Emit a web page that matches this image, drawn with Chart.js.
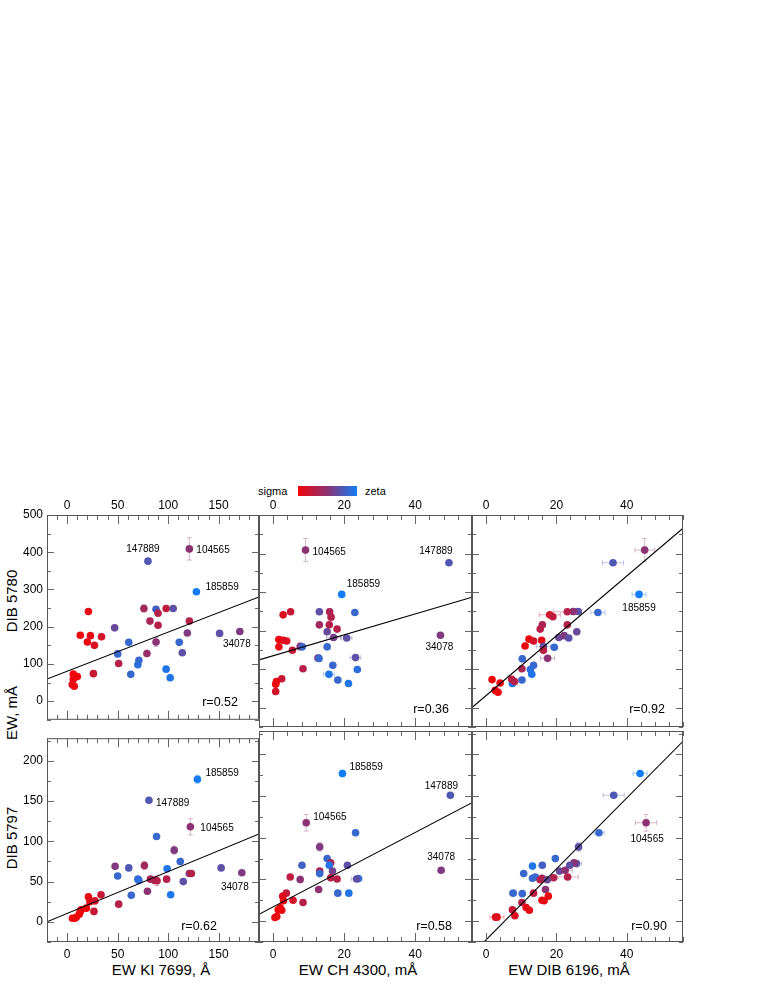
<!DOCTYPE html>
<html>
<head>
<meta charset="utf-8">
<script src="https://cdn.jsdelivr.net/npm/chart.js@4.4.1/dist/chart.umd.min.js"></script>
<style>
  body { margin: 0; background: #fff; width: 763px; height: 987px; position: relative; overflow: hidden;
         font-family: 'Liberation Sans', Arial, Helvetica, sans-serif; }
  canvas { position: absolute; }
  .ttl { position: absolute; font-size: 15px; line-height: 20px; height: 20px; white-space: nowrap; color: #000; text-align: center; }
  .rot { width: 120px; transform: rotate(-90deg); }
  .leg { position: absolute; font-size: 11px; line-height: 14px; color: #000; }
  #bar { position: absolute; left: 298px; top: 486px; width: 59px; height: 10px;
         background: linear-gradient(to right, rgb(240,5,10), rgb(140,50,115), rgb(20,125,245)); }
</style>
</head>
<body>
<div class="leg" style="left:258px; top:484px;">sigma</div>
<div id="bar"></div>
<div class="leg" style="left:365px; top:484px;">zeta</div>

<div class="ttl rot" style="left:-48px; top:591px;">DIB 5780</div>
<div class="ttl rot" style="left:-48px; top:703px;">EW, mÅ</div>
<div class="ttl rot" style="left:-48px; top:828px;">DIB 5797</div>
<div class="ttl" style="left:61px; top:960px; width:200px;">EW KI 7699, Å</div>
<div class="ttl" style="left:258px; top:960px; width:200px;">EW CH 4300, mÅ</div>
<div class="ttl" style="left:469px; top:960px; width:200px;">EW DIB 6196, mÅ</div>

<script>
// tick labels
const kiTicks = [0, 50, 100, 150];
const ewTicks = [0, 20, 40];
const y5780Ticks = [0, 100, 200, 300, 400, 500];
const y5797Ticks = [0, 50, 100, 150, 200];

// points: [x, y, sigma->zeta colour index, x error, y error, name]
const ki5780 = [
  [121, 409, 0.5, 0, 30, '104565'], [80, 376, 0.75, 0, 0, '147889'], [128, 294, 1, 0, 0, '185859'],
  [171, 187, 0.55, 0, 0, '34078'], [151, 182, 0.7], [21, 241, 0.05], [76, 249, 0.4, 0, 10],
  [88, 247, 0.8], [98, 249, 0.25], [105, 249, 0.7], [82, 215, 0.35], [90, 236, 0.3],
  [90, 204, 0.3], [121, 215, 0.3], [47, 197, 0.65], [13, 177, 0], [23, 176, 0.05],
  [34, 173, 0.15], [20, 159, 0.05], [27, 150, 0.12], [61, 158, 0.85], [88, 159, 0.5, 0, 12],
  [119, 183, 0.55], [111, 158, 0.85], [114, 130, 0.7], [79, 128, 0.45], [50, 127, 0.85, 0, 8],
  [51, 101, 0.3], [71, 110, 0.85], [70, 98, 0.9], [63, 72, 0.85], [98, 86, 0.95],
  [102, 63, 0.95, 0, 8], [26, 74, 0.2], [6, 73, 0], [10, 66, 0], [6, 59, 0.02], [5, 45, 0.05], [7, 40, 0.02]
];
const ch5780 = [
  [9.1, 409, 0.5, 0, 30, '104565'], [49.5, 376, 0.75, 0, 0, '147889'], [19.3, 294, 1, 0, 0, '185859'],
  [47.1, 188, 0.55, 0, 0, '34078'], [2.8, 241, 0.1], [4.9, 249, 0.2], [13, 249, 0.7],
  [15.9, 249, 0.35, 0, 8], [16.3, 235, 0.3], [23, 247, 0.85], [13, 215, 0.4], [15.8, 215, 0.3],
  [18, 204, 0.3], [15.2, 197, 0.65], [17, 182, 0.6, 2, 0], [20.7, 181, 0.7, 1.5, 0],
  [1.6, 177, 0], [2.8, 175, 0.05], [3.8, 173, 0.1], [1.6, 158, 0.05], [5.4, 149, 0.2],
  [7.6, 159, 0.5, 0, 10], [8.2, 158, 0.85], [15.2, 158, 0.85], [12.6, 129, 0.5], [12.9, 128, 0.85, 0, 8],
  [23.2, 130, 0.7, 1.5, 0], [8.4, 101, 0.3], [16.8, 110, 0.85], [23.7, 99, 0.9], [15.7, 87, 0.95, 1.5, 0],
  [18.2, 72, 0.85], [21.2, 63, 0.95, 0, 8], [2.4, 75, 0.2], [0.9, 68, 0.05], [0.7, 61, 0.02], [0.7, 42, 0.15]
];
const dib5780 = [
  [45.1, 409, 0.5, 2.8, 30], [36.1, 376, 0.75, 3, 0], [43.5, 294, 1, 2, 0, '185859'],
  [31.8, 247, 0.85, 2, 0], [26.2, 249.5, 0.7], [24.8, 249.5, 0.5, 0, 8], [23.1, 249, 0.3, 4, 0],
  [18.1, 241, 0.15, 3, 0], [19, 236, 0.25], [23.1, 215, 0.3], [16, 215, 0.35], [15.4, 204, 0.3],
  [25.8, 197, 0.65], [20.7, 182, 0.65], [22.2, 187, 0.55], [23.5, 181, 0.7], [12.2, 178, 0],
  [13.5, 173, 0.15], [11.1, 160, 0.02], [15.8, 175, 0.05], [16.3, 159, 0.7, 2, 0], [19.4, 157, 0.85],
  [16.3, 149, 0.25], [17.5, 128.5, 0.5, 2, 0], [10.3, 127, 0.85, 0, 8], [13.5, 110, 0.85],
  [12.6, 99, 0.9], [10.2, 101, 0.35], [13, 87, 0.95], [10.2, 72, 0.85], [7.5, 63, 0.95],
  [7.3, 74, 0.25], [1.7, 73, 0], [4, 64, 0.02], [2.6, 45, 0.05], [3.4, 40, 0.02], [8.1, 68, 0.3]
];
const ki5797 = [
  [122, 118, 0.5, 0, 10, '104565'], [129, 177, 1, 0, 5, '185859'], [81, 151, 0.75, 0, 0, '147889'],
  [173, 61, 0.55, 0, 0, '34078'], [88.5, 106, 0.85], [106, 89, 0.55, 0, 5], [112, 75, 0.85, 0, 4],
  [47.5, 69, 0.55], [76.5, 70, 0.4, 0, 5], [61, 67, 0.75], [99, 66, 0.95], [152.5, 67, 0.7],
  [50, 57, 0.85], [70, 53, 0.85], [71, 51.5, 0.9], [82.5, 53, 0.35], [86.5, 51.5, 0.35],
  [89, 51, 0.3, 0, 6], [98.5, 53, 0.3], [121, 60, 0.5], [123, 60, 0.3], [115, 50, 0.7],
  [79.5, 38, 0.5], [63.5, 33, 0.85], [102.5, 33.6, 0.95], [33.5, 33.6, 0.2], [51, 22, 0.3],
  [21, 31, 0.05], [22.5, 25, 0.05], [27.5, 26, 0.15], [26.5, 13, 0.2], [19, 17, 0],
  [13.8, 15, 0], [13, 13, 0.02], [12, 9.6, 0], [9, 5.6, 0], [5.2, 4.4, 0], [7.5, 4.4, 0.02]
];
const ch5797 = [
  [9.3, 118, 0.5, 0, 10, '104565'], [19.5, 177, 1, 0, 4, '185859'], [49.9, 151, 0.75, 0, 0, '147889'],
  [47.3, 61, 0.55, 0, 0, '34078'], [23.2, 106, 0.85], [13.1, 89, 0.55, 0, 5], [15.2, 75, 0.85],
  [16.2, 70, 0.35], [15.8, 67, 0.95], [8.1, 67, 0.8], [20.9, 67, 0.7], [13.1, 60, 0.35],
  [13.1, 57, 0.85], [16.7, 60, 0.6], [4.8, 53, 0.25], [7.6, 50, 0.5, 0, 4], [16.2, 52, 0.3],
  [18, 50.6, 0.3], [24, 51, 0.9], [23.5, 50.6, 0.7, 1.5, 0], [12.8, 38, 0.5], [18.2, 33.6, 0.85],
  [21.3, 33.6, 0.95], [8.4, 22.4, 0.3], [3.7, 33.6, 0.25], [2.7, 30, 0.1], [5.6, 25, 0.15],
  [2.9, 24.5, 0.05], [2, 16, 0], [2.4, 13, 0.05], [1.4, 13.7, 0], [1, 5.6, 0], [0.5, 4.4, 0.05]
];
const dib5797 = [
  [45.5, 118, 0.5, 3, 10, '104565'], [43.8, 177, 1, 2, 0], [36.3, 151, 0.75, 3, 0],
  [32.1, 106, 0.85, 1.5, 0], [26.3, 89, 0.7, 0, 5], [19.7, 75, 0.85], [25.7, 69, 0.7, 1.5, 0],
  [25, 70, 0.5], [23.8, 67, 0.7], [16, 67, 0.8], [13.2, 66, 0.95], [10.7, 57, 0.85],
  [13.2, 51.5, 0.85], [14, 53, 0.85], [20.9, 60, 0.65], [22.5, 61, 0.5, 2, 0], [23.2, 53, 0.3, 3, 0],
  [19.2, 52, 0.3], [15.9, 51.5, 0.35], [15.4, 49.6, 0.3], [17.4, 49.6, 0.65], [16.9, 38, 0.5],
  [7.7, 33.6, 0.85, 1, 0], [10.3, 33, 0.85], [13.5, 33.6, 0.25], [17.7, 30, 0.05], [15.9, 25, 0.05],
  [16.5, 24.5, 0.05], [10.2, 22.4, 0.3], [7.5, 13.7, 0.2], [11.4, 16.4, 0.05], [12.3, 13, 0.05],
  [8.2, 6.4, 0.1], [3.1, 4.8, 0.05, 2, 0], [2.7, 4.8, 0.1]
];

// linear fits: [intercept, slope]
const fitKI5780 = [80.5, 1.05];
const fitCH5780 = [134.8, 2.71];
const fitDIB5780 = [31.6, 7.75];
const fitKI5797 = [10.4, 0.52];
const fitCH5797 = [17.1, 2.23];
const fitDIB5797 = [-22.4, 4.25];

const rValues = ['r=0.52', 'r=0.36', 'r=0.92', 'r=0.62', 'r=0.58', 'r=0.90'];

// colour scale sigma (red) -> zeta (blue)
const stops = [[240, 5, 10], [140, 50, 115], [20, 125, 245]];
function sigmaZeta(c, a) {
  const t = Math.min(Math.max(c, 0), 1) * 2;
  const i = t < 1 ? 0 : 1, f = t - i;
  const p = stops[i], q = stops[i + 1];
  const rgb = [0, 1, 2].map(k => Math.round(p[k] + (q[k] - p[k]) * f));
  return 'rgba(' + rgb.join(',') + ',' + a + ')';
}

const cols = [[47, 259], [259, 472], [472, 683]];
const rows = [[515, 727], [731, 942]];

const panels = [
  { pts: ki5780, fit: fitKI5780, r: rValues[0], row: 0, col: 0, xr: [-20, 190], xt: kiTicks, xm: 10, yr: [-50, 500], yt: y5780Ticks, ym: 50,
    rPos: [21, 17], tags: { '147889': [-5, -12, 'center'], '104565': [7, 1, 'left'], '185859': [9, -4, 'left'], '34078': [-3, 13, 'center'] } },
  { pts: ch5780, fit: fitCH5780, r: rValues[1], row: 0, col: 1, xr: [-4, 56], xt: ewTicks, xm: 4, yr: [-50, 500], yt: y5780Ticks, ym: 50,
    rPos: [23, 17], tags: { '104565': [7, 2, 'left'], '147889': [-13, -12, 'center'], '185859': [5, -10, 'left'], '34078': [-1, 12, 'center'] } },
  { pts: dib5780, fit: fitDIB5780, r: rValues[2], row: 0, col: 2, xr: [-4, 56], xt: ewTicks, xm: 4, yr: [-50, 500], yt: y5780Ticks, ym: 50,
    rPos: [18, 17], tags: { '185859': [0, 14, 'center'] } },
  { pts: ki5797, fit: fitKI5797, r: rValues[3], row: 1, col: 0, xr: [-20, 190], xt: kiTicks, xm: 10, yr: [-25, 228], yt: y5797Ticks, ym: 25,
    rPos: [42, 15], tags: { '185859': [8, -6, 'left'], '147889': [7, 3, 'left'], '104565': [10, 1, 'left'], '34078': [-7, 15, 'center'] } },
  { pts: ch5797, fit: fitCH5797, r: rValues[4], row: 1, col: 1, xr: [-4, 56], xt: ewTicks, xm: 4, yr: [-25, 228], yt: y5797Ticks, ym: 25,
    rPos: [20, 15], tags: { '185859': [7, -6, 'left'], '147889': [-9, -9, 'center'], '104565': [7, -5, 'left'], '34078': [0, -13, 'center'] } },
  { pts: dib5797, fit: fitDIB5797, r: rValues[5], row: 1, col: 2, xr: [-4, 56], xt: ewTicks, xm: 4, yr: [-25, 228], yt: y5797Ticks, ym: 25,
    rPos: [16, 15], tags: { '104565': [1, 17, 'center'] } }
];

Chart.defaults.font.family = "'Liberation Sans', Arial, Helvetica, sans-serif";
Chart.defaults.color = '#000';

// frame, inward ticks, error bars, star names, r values
const panelDeco = {
  id: 'panelDeco',
  beforeDatasetsDraw(chart, args, p) {
    const ctx = chart.ctx, xs = chart.scales.x, ys = chart.scales.y;
    ctx.save();
    ctx.lineWidth = 1;
    p.cfg.pts.forEach(d => {
      const ex = d[3] || 0, ey = d[4] || 0;
      if (!ex && !ey) return;
      const px = xs.getPixelForValue(d[0]), py = ys.getPixelForValue(d[1]);
      ctx.strokeStyle = sigmaZeta(d[2], 0.35);
      ctx.beginPath();
      if (ex) {
        const a = xs.getPixelForValue(d[0] - ex), b = xs.getPixelForValue(d[0] + ex);
        ctx.moveTo(a, py); ctx.lineTo(b, py);
        ctx.moveTo(a, py - 2.5); ctx.lineTo(a, py + 2.5);
        ctx.moveTo(b, py - 2.5); ctx.lineTo(b, py + 2.5);
      }
      if (ey) {
        const a = ys.getPixelForValue(d[1] - ey), b = ys.getPixelForValue(d[1] + ey);
        ctx.moveTo(px, a); ctx.lineTo(px, b);
        ctx.moveTo(px - 2.5, a); ctx.lineTo(px + 2.5, a);
        ctx.moveTo(px - 2.5, b); ctx.lineTo(px + 2.5, b);
      }
      ctx.stroke();
    });
    ctx.restore();
  },
  afterDatasetsDraw(chart, args, p) {
    const ctx = chart.ctx, xs = chart.scales.x, ys = chart.scales.y, ca = chart.chartArea;
    const cfg = p.cfg;
    ctx.save();
    // ticks
    ctx.strokeStyle = '#666';
    ctx.lineWidth = 1;
    ctx.beginPath();
    const xMaj = cfg.xt[1] - cfg.xt[0], yMaj = cfg.yt[1] - cfg.yt[0];
    for (let v = Math.ceil(cfg.xr[0] / cfg.xm) * cfg.xm; v <= cfg.xr[1]; v += cfg.xm) {
      const x = Math.round(xs.getPixelForValue(v)) + 0.5;
      const len = Math.abs(v % xMaj) < 1e-6 ? 9 : 5;
      ctx.moveTo(x, ca.bottom); ctx.lineTo(x, ca.bottom - len);
      ctx.moveTo(x, ca.top); ctx.lineTo(x, ca.top + len);
    }
    for (let v = Math.ceil(cfg.yr[0] / cfg.ym) * cfg.ym; v <= cfg.yr[1]; v += cfg.ym) {
      const y = Math.round(ys.getPixelForValue(v)) + 0.5;
      const len = Math.abs(v % yMaj) < 1e-6 ? 7 : 4;
      ctx.moveTo(ca.left, y); ctx.lineTo(ca.left + len, y);
      ctx.moveTo(ca.right, y); ctx.lineTo(ca.right - len, y);
    }
    ctx.stroke();
    // frame
    ctx.strokeStyle = '#555';
    ctx.strokeRect(ca.left + 0.5, ca.top + 0.5, ca.right - ca.left - 1, ca.bottom - ca.top - 1);
    // star names
    ctx.fillStyle = '#000';
    ctx.font = "10px 'Liberation Sans', Arial, sans-serif";
    ctx.textBaseline = 'middle';
    cfg.pts.forEach(d => {
      const t = d[5] && cfg.tags[d[5]];
      if (!t) return;
      ctx.textAlign = t[2];
      ctx.fillText(d[5], xs.getPixelForValue(d[0]) + t[0], ys.getPixelForValue(d[1]) + t[1]);
    });
    // correlation coefficient
    ctx.font = "12.5px 'Liberation Sans', Arial, sans-serif";
    ctx.textAlign = 'right';
    ctx.fillText(cfg.r, ca.right - cfg.rPos[0], ca.bottom - cfg.rPos[1]);
    ctx.restore();
  }
};

panels.forEach(cfg => {
  const [L, R] = cols[cfg.col], [T, B] = rows[cfg.row];
  const padL = cfg.col === 0 ? 47 : 4, padT = cfg.row === 0 ? 22 : 4, padB = cfg.row === 1 ? 20 : 4, padR = 4;
  const cv = document.createElement('canvas');
  cv.width = R - L + padL + padR;
  cv.height = B - T + padT + padB;
  cv.style.left = (L - padL) + 'px';
  cv.style.top = (T - padT) + 'px';
  document.body.appendChild(cv);

  const [a, b] = cfg.fit;
  const fitLine = cfg.xr.map(x => ({ x: x, y: a + b * x }));

  new Chart(cv, {
    type: 'scatter',
    data: {
      datasets: [
        { type: 'line', data: fitLine, borderColor: '#000', borderWidth: 1.1, pointRadius: 0, fill: false, clip: 0, order: 0 },
        { data: cfg.pts.map(d => ({ x: d[0], y: d[1] })), backgroundColor: cfg.pts.map(d => sigmaZeta(d[2], 1)),
          pointRadius: 3.8, borderWidth: 0, order: 1 }
      ]
    },
    options: {
      responsive: false,
      animation: false,
      events: [],
      layout: { padding: { left: cfg.col === 0 ? 0 : 4, right: padR, top: cfg.row === 0 ? 0 : 4, bottom: cfg.row === 1 ? 0 : 4 } },
      plugins: { legend: { display: false }, tooltip: { enabled: false }, panelDeco: { cfg: cfg } },
      scales: {
        x: {
          type: 'linear', position: cfg.row === 0 ? 'top' : 'bottom', min: cfg.xr[0], max: cfg.xr[1],
          afterBuildTicks: s => { s.ticks = cfg.xt.map(v => ({ value: v })); },
          afterFit: s => { s.height = cfg.row === 0 ? 22 : 20; },
          grid: { display: false, drawTicks: false }, border: { display: false },
          ticks: { font: { size: 12 }, color: '#000', padding: cfg.row === 0 ? 2 : 5, maxRotation: 0, autoSkip: false }
        },
        y: {
          type: 'linear', display: cfg.col === 0, min: cfg.yr[0], max: cfg.yr[1],
          afterBuildTicks: s => { s.ticks = cfg.yt.map(v => ({ value: v })); },
          afterFit: s => { s.width = cfg.col === 0 ? 47 : 0; },
          grid: { display: false, drawTicks: false }, border: { display: false },
          ticks: { font: { size: 12 }, color: '#000', padding: 4, autoSkip: false }
        }
      }
    },
    plugins: [panelDeco]
  });
});
</script>
</body>
</html>
